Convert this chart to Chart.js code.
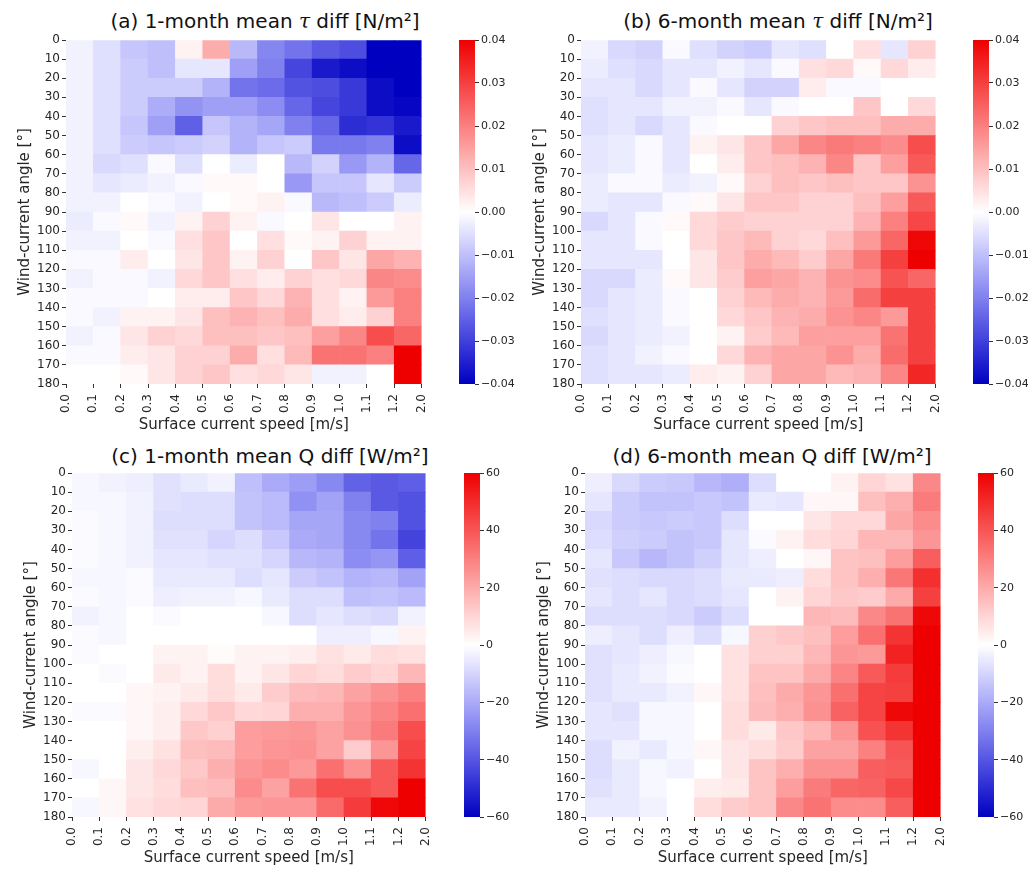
<!DOCTYPE html>
<html>
<head>
<meta charset="utf-8">
<script src="https://cdn.jsdelivr.net/npm/chart.js@4.4.1/dist/chart.umd.min.js"></script>
<style>
  html, body { margin: 0; padding: 0; background: #fff; }
  body { width: 1028px; height: 871px; position: relative; overflow: hidden; }
  canvas { position: absolute; }
  .title {
    position: absolute;
    font-family: 'DejaVu Sans', sans-serif;
    font-size: 20px;
    line-height: 1;
    color: #111;
    white-space: nowrap;
    transform: translateX(-50%);
  }
  .title i { font-family: 'DejaVu Serif', serif; }
</style>
</head>
<body>
<div class="title" style="left:265px; top:11px;">(a) 1-month mean <i>τ</i> diff [N/m²]</div>
<div class="title" style="left:778px; top:11px;">(b) 6-month mean <i>τ</i> diff [N/m²]</div>
<div class="title" style="left:270px; top:446px;">(c) 1-month mean Q diff [W/m²]</div>
<div class="title" style="left:772px; top:446px;">(d) 6-month mean Q diff [W/m²]</div>

<script>
// -- bin edges (tick labels) --
const speedEdges = ['0.0', '0.1', '0.2', '0.3', '0.4', '0.5', '0.6', '0.7', '0.8', '0.9', '1.0', '1.1', '1.2', '2.0'];
const angleEdges = [0, 10, 20, 30, 40, 50, 60, 70, 80, 90, 100, 110, 120, 130, 140, 150, 160, 170, 180];

// -- (a) 1-month mean tau diff [N/m2], rows = angle bins (0-10 first), cols = speed bins --
const tau1m = [
    [-0.002, -0.005, -0.009, -0.010, 0.002, 0.013, -0.011, -0.019, -0.022, -0.026, -0.028, -0.040, -0.040],
    [-0.002, -0.005, -0.008, -0.010, -0.004, -0.004, -0.015, -0.020, -0.029, -0.036, -0.038, -0.040, -0.040],
    [-0.002, -0.005, -0.008, -0.008, -0.008, -0.012, -0.022, -0.023, -0.027, -0.028, -0.031, -0.038, -0.040],
    [-0.002, -0.005, -0.008, -0.013, -0.017, -0.015, -0.015, -0.018, -0.024, -0.029, -0.031, -0.038, -0.039],
    [-0.002, -0.005, -0.009, -0.015, -0.025, -0.009, -0.012, -0.014, -0.020, -0.024, -0.033, -0.032, -0.036],
    [-0.002, -0.005, -0.008, -0.009, -0.008, -0.007, -0.012, -0.009, -0.008, -0.021, -0.021, -0.020, -0.038],
    [-0.002, -0.006, -0.005, -0.001, -0.005, 0.000, -0.003, 0.000, -0.011, -0.007, -0.016, -0.012, -0.024],
    [-0.002, -0.004, -0.003, -0.002, -0.001, 0.001, 0.001, 0.000, -0.016, -0.009, -0.009, -0.004, -0.008],
    [-0.002, -0.002, 0.000, -0.001, -0.002, 0.000, 0.001, 0.002, -0.001, -0.011, -0.010, -0.008, -0.003],
    [-0.003, -0.001, 0.001, -0.002, 0.002, 0.007, 0.002, -0.001, 0.000, 0.004, 0.000, 0.000, 0.002],
    [-0.002, -0.002, 0.000, -0.001, 0.005, 0.009, 0.000, 0.005, 0.001, 0.002, 0.007, 0.002, 0.002],
    [-0.001, -0.001, 0.003, 0.000, 0.004, 0.009, 0.002, 0.007, 0.000, 0.009, 0.004, 0.014, 0.012],
    [-0.002, -0.001, -0.001, -0.002, 0.006, 0.009, 0.005, 0.003, 0.007, 0.005, 0.006, 0.019, 0.018],
    [-0.001, -0.001, -0.001, 0.000, 0.003, 0.003, 0.009, 0.006, 0.012, 0.005, 0.002, 0.016, 0.020],
    [-0.001, -0.002, 0.002, 0.002, 0.004, 0.010, 0.012, 0.010, 0.013, 0.005, 0.003, 0.007, 0.020],
    [-0.002, -0.001, 0.004, 0.007, 0.006, 0.010, 0.010, 0.009, 0.010, 0.015, 0.019, 0.028, 0.024],
    [-0.001, -0.001, 0.003, 0.004, 0.007, 0.007, 0.013, 0.005, 0.011, 0.022, 0.022, 0.020, 0.040],
    [0.000, 0.000, 0.001, 0.004, 0.007, 0.009, 0.005, 0.006, 0.004, -0.002, -0.002, 0.000, 0.040],
];

// -- (b) 6-month mean tau diff [N/m2] --
const tau6m = [
    [-0.002, -0.006, -0.007, -0.001, -0.005, -0.007, -0.008, -0.004, -0.005, 0.000, 0.005, -0.004, 0.007],
    [-0.003, -0.005, -0.006, -0.004, -0.004, -0.002, -0.004, -0.001, 0.005, 0.006, 0.001, 0.006, 0.003],
    [-0.004, -0.004, -0.006, -0.004, -0.001, -0.004, -0.007, -0.007, 0.003, -0.001, -0.001, 0.000, 0.000],
    [-0.005, -0.004, -0.004, -0.002, -0.002, -0.001, -0.004, -0.001, 0.000, 0.000, 0.009, 0.000, 0.006],
    [-0.005, -0.004, -0.006, -0.004, -0.001, 0.000, 0.000, 0.007, 0.009, 0.010, 0.010, 0.013, 0.013],
    [-0.004, -0.003, -0.001, -0.004, 0.002, 0.004, 0.009, 0.014, 0.019, 0.021, 0.020, 0.018, 0.028],
    [-0.004, -0.003, -0.001, -0.004, 0.000, 0.003, 0.009, 0.010, 0.012, 0.019, 0.009, 0.015, 0.026],
    [-0.003, -0.001, -0.001, -0.003, -0.002, 0.001, 0.007, 0.010, 0.009, 0.010, 0.009, 0.009, 0.017],
    [-0.003, -0.004, -0.004, -0.001, 0.001, 0.004, 0.009, 0.009, 0.007, 0.007, 0.010, 0.015, 0.026],
    [-0.006, -0.004, -0.001, 0.001, 0.006, 0.008, 0.007, 0.007, 0.007, 0.007, 0.012, 0.020, 0.029],
    [-0.004, -0.004, -0.001, 0.000, 0.006, 0.009, 0.011, 0.007, 0.006, 0.010, 0.016, 0.024, 0.039],
    [-0.004, -0.004, -0.004, 0.000, 0.004, 0.009, 0.013, 0.011, 0.008, 0.014, 0.021, 0.030, 0.040],
    [-0.006, -0.006, -0.003, 0.001, 0.004, 0.008, 0.015, 0.014, 0.012, 0.017, 0.018, 0.027, 0.024],
    [-0.006, -0.004, -0.003, -0.001, 0.000, 0.007, 0.011, 0.013, 0.012, 0.016, 0.023, 0.030, 0.030],
    [-0.005, -0.004, -0.003, -0.001, 0.000, 0.006, 0.009, 0.012, 0.013, 0.017, 0.019, 0.016, 0.030],
    [-0.006, -0.004, -0.003, -0.002, 0.000, 0.002, 0.008, 0.011, 0.015, 0.015, 0.015, 0.022, 0.030],
    [-0.005, -0.004, -0.002, -0.001, 0.000, 0.006, 0.012, 0.014, 0.014, 0.017, 0.013, 0.023, 0.030],
    [-0.005, -0.004, -0.004, -0.003, 0.003, 0.002, 0.007, 0.014, 0.014, 0.011, 0.012, 0.019, 0.034],
];

// -- (c) 1-month mean Q diff [W/m2] --
const q1m = [
    [-2, -3, -4, -7, -5, -3, -15, -20, -23, -28, -37, -39, -38],
    [-2, -2, -3, -7, -8, -8, -14, -16, -26, -22, -30, -39, -41],
    [-1, -2, -3, -8, -8, -8, -14, -16, -21, -21, -28, -30, -41],
    [-1, -2, -3, -7, -7, -10, -8, -13, -20, -21, -28, -33, -44],
    [-1, -2, -3, -6, -6, -7, -7, -10, -17, -18, -27, -25, -38],
    [-2, -2, -1, -5, -5, -5, -8, -6, -12, -14, -18, -17, -22],
    [-1, -2, -1, -4, -3, -3, -2, -5, -8, -8, -15, -14, -16],
    [-3, -2, 0, -1, 0, 0, 0, -2, -8, -6, -8, -9, -3],
    [-1, -2, 0, 0, 0, 0, 0, 0, 0, -4, -4, -2, 3],
    [-1, 0, 0, 3, 3, 1, 3, 3, 4, 7, 5, 8, 7],
    [0, -1, 0, 5, 3, 8, 3, 6, 10, 8, 12, 10, 17],
    [0, 0, 2, 3, 5, 8, 5, 12, 16, 17, 22, 26, 30],
    [-1, -1, 2, 4, 9, 13, 9, 10, 19, 19, 25, 29, 34],
    [0, 0, 2, 4, 13, 11, 23, 24, 25, 22, 26, 31, 42],
    [0, 0, 4, 7, 15, 16, 23, 25, 26, 22, 12, 25, 44],
    [-2, 0, 6, 9, 13, 19, 25, 27, 24, 34, 26, 39, 48],
    [0, 2, 6, 8, 15, 16, 27, 22, 33, 42, 42, 39, 60],
    [-2, 2, 7, 9, 10, 20, 24, 25, 25, 35, 46, 58, 60],
];

// -- (d) 6-month mean Q diff [W/m2] --
const q6m = [
    [-4, -9, -12, -13, -17, -19, -8, 0, 0, 3, 10, 7, 28],
    [-6, -12, -14, -14, -13, -14, -5, -6, 2, 2, 15, 19, 31],
    [-9, -12, -13, -12, -13, -8, 0, 0, 6, 9, 9, 21, 27],
    [-8, -11, -12, -14, -13, -6, -1, 3, 8, 10, 17, 17, 25],
    [-6, -13, -17, -14, -11, -6, -4, 0, 2, 14, 15, 23, 38],
    [-7, -8, -9, -9, -8, -5, -5, -4, 8, 14, 19, 32, 49],
    [-6, -8, -6, -9, -8, -6, 0, 3, 10, 13, 12, 20, 45],
    [-8, -8, -8, -9, -12, -8, 0, 0, 17, 16, 28, 33, 58],
    [-4, -6, -8, -4, -8, -2, 11, 13, 15, 23, 34, 48, 60],
    [-7, -6, -4, -2, 0, 7, 11, 11, 17, 25, 24, 52, 60],
    [-7, -5, -3, -1, 0, 7, 14, 14, 20, 29, 39, 46, 60],
    [-7, -5, -5, -3, 2, 7, 15, 20, 25, 34, 44, 45, 60],
    [-6, -7, -2, -2, 0, 8, 16, 19, 26, 37, 44, 58, 60],
    [-6, -6, -2, -2, 0, 8, 5, 13, 17, 25, 41, 48, 60],
    [-8, -3, -5, -2, 2, 6, 8, 12, 22, 22, 30, 40, 60],
    [-8, -5, -2, -3, 0, 6, 14, 19, 26, 26, 38, 39, 60],
    [-7, -5, -2, 0, 4, 5, 14, 23, 31, 36, 37, 43, 60],
    [-5, -5, -3, 0, 8, 12, 14, 28, 33, 27, 27, 38, 60],
];

// -- Global Chart.js defaults --
Chart.defaults.font.family = "'DejaVu Sans', sans-serif";
Chart.defaults.font.size = 12;
Chart.defaults.color = '#262626';
Chart.defaults.animation = false;

const TICK_COLOR = '#333';

/**
 * Diverging blue-white-red map, t in [-1, 1]
 */
function colorFor(t) {
    t = Math.max(-1, Math.min(1, t));
    if (t >= 0) {
        const r = Math.round(255 - 17 * t * t);
        const gb = Math.round(255 * (1 - t));
        return `rgb(${r},${gb},${gb})`;
    }
    const s = -t;
    const rg = Math.round(255 * (1 - s));
    const b = Math.round(255 - 63 * s * s);
    return `rgb(${rg},${rg},${b})`;
}

function placeCanvas(left, top, width, height) {
    const c = document.createElement('canvas');
    c.width = width;
    c.height = height;
    c.style.left = left + 'px';
    c.style.top = top + 'px';
    c.style.width = width + 'px';
    c.style.height = height + 'px';
    document.body.appendChild(c);
    return c;
}

/**
 * Heatmap drawn as floating bars on linear scales (one bar per cell)
 */
function createHeatmap(rows, vmax, plot) {
    const yW = 66, padTop = 10, padRight = 6, xH = 52;
    const canvas = placeCanvas(plot.left - yW, plot.top - padTop,
        plot.right - plot.left + yW + padRight, plot.bottom - plot.top + padTop + xH);

    const cells = [];
    const colors = [];
    rows.forEach((row, r) => row.forEach((v, c) => {
        cells.push({ x: c + 0.5, y: [angleEdges[r], angleEdges[r + 1]] });
        colors.push(colorFor(v / vmax));
    }));

    return new Chart(canvas, {
        type: 'bar',
        data: {
            datasets: [{
                data: cells,
                backgroundColor: colors,
                borderWidth: 0,
                barPercentage: 1,
                categoryPercentage: 1,
            }],
        },
        options: {
            responsive: false,
            layout: { padding: { left: 0, top: padTop, right: padRight, bottom: 0 } },
            plugins: { legend: { display: false }, tooltip: { enabled: false } },
            scales: {
                x: {
                    type: 'linear',
                    min: 0,
                    max: speedEdges.length - 1,
                    offset: false,
                    grid: { drawOnChartArea: false, tickLength: 4, tickColor: TICK_COLOR, offset: false },
                    border: { display: false },
                    ticks: {
                        stepSize: 1,
                        autoSkip: false,
                        minRotation: 90,
                        maxRotation: 90,
                        padding: 6,
                        callback: (v) => speedEdges[v],
                    },
                    title: {
                        display: true,
                        text: 'Surface current speed [m/s]',
                        font: { size: 15 },
                        padding: { top: 0, bottom: 2 },
                    },
                    afterFit: (s) => { s.height = xH; },
                },
                y: {
                    type: 'linear',
                    min: 0,
                    max: 180,
                    reverse: true,
                    grid: { drawOnChartArea: false, tickLength: 4, tickColor: TICK_COLOR },
                    border: { display: false },
                    ticks: { stepSize: 10, autoSkip: false, padding: 2 },
                    title: {
                        display: true,
                        text: 'Wind-current angle [°]',
                        font: { size: 15 },
                        padding: { top: 16, bottom: 0 },
                    },
                    afterFit: (s) => { s.width = yW; },
                },
            },
        },
    });
}

function colorbarGradient(chart) {
    const area = chart.chartArea;
    if (!area) return '#fff';
    const g = chart.ctx.createLinearGradient(0, area.bottom, 0, area.top);
    for (let i = 0; i <= 40; i++) {
        g.addColorStop(i / 40, colorFor(i / 20 - 1));
    }
    return g;
}

/**
 * Vertical colorbar with ticks on the right
 */
function createColorbar(vmax, step, digits, left, plot) {
    const cbW = 16, axisW = 40, pad = 10;
    const canvas = placeCanvas(left - 4, plot.top - pad, 4 + cbW + axisW, plot.bottom - plot.top + 2 * pad);
    return new Chart(canvas, {
        type: 'bar',
        data: {
            labels: [''],
            datasets: [{
                data: [[-vmax, vmax]],
                backgroundColor: (ctx) => colorbarGradient(ctx.chart),
                borderWidth: 0,
                barPercentage: 1,
                categoryPercentage: 1,
                inflateAmount: 0,
            }],
        },
        options: {
            responsive: false,
            layout: { padding: { left: 4, top: pad, right: 0, bottom: pad } },
            plugins: { legend: { display: false }, tooltip: { enabled: false } },
            scales: {
                x: { display: false },
                y: {
                    position: 'right',
                    min: -vmax,
                    max: vmax,
                    grid: { drawOnChartArea: false, tickLength: 4, tickColor: TICK_COLOR },
                    border: { display: false },
                    ticks: {
                        stepSize: step,
                        padding: 2,
                        font: { size: 11 },
                        callback: (v) => Number(v).toFixed(digits).replace('-', '\u2212'),
                    },
                    afterFit: (s) => { s.width = axisW; },
                },
            },
        },
    });
}

const PANELS = [
    { rows: tau1m, vmax: 0.04, step: 0.01, digits: 2, cbLeft: 459, plot: { left: 66, right: 436, top: 40, bottom: 384 } },
    { rows: tau6m, vmax: 0.04, step: 0.01, digits: 2, cbLeft: 973, plot: { left: 581, right: 950, top: 40, bottom: 384 } },
    { rows: q1m, vmax: 60, step: 20, digits: 0, cbLeft: 464, plot: { left: 72, right: 440, top: 473, bottom: 817 } },
    { rows: q6m, vmax: 60, step: 20, digits: 0, cbLeft: 978, plot: { left: 585, right: 955, top: 473, bottom: 817 } },
];

PANELS.forEach((p) => {
    createHeatmap(p.rows, p.vmax, p.plot);
    createColorbar(p.vmax, p.step, p.digits, p.cbLeft, p.plot);
});
</script>
</body>
</html>
